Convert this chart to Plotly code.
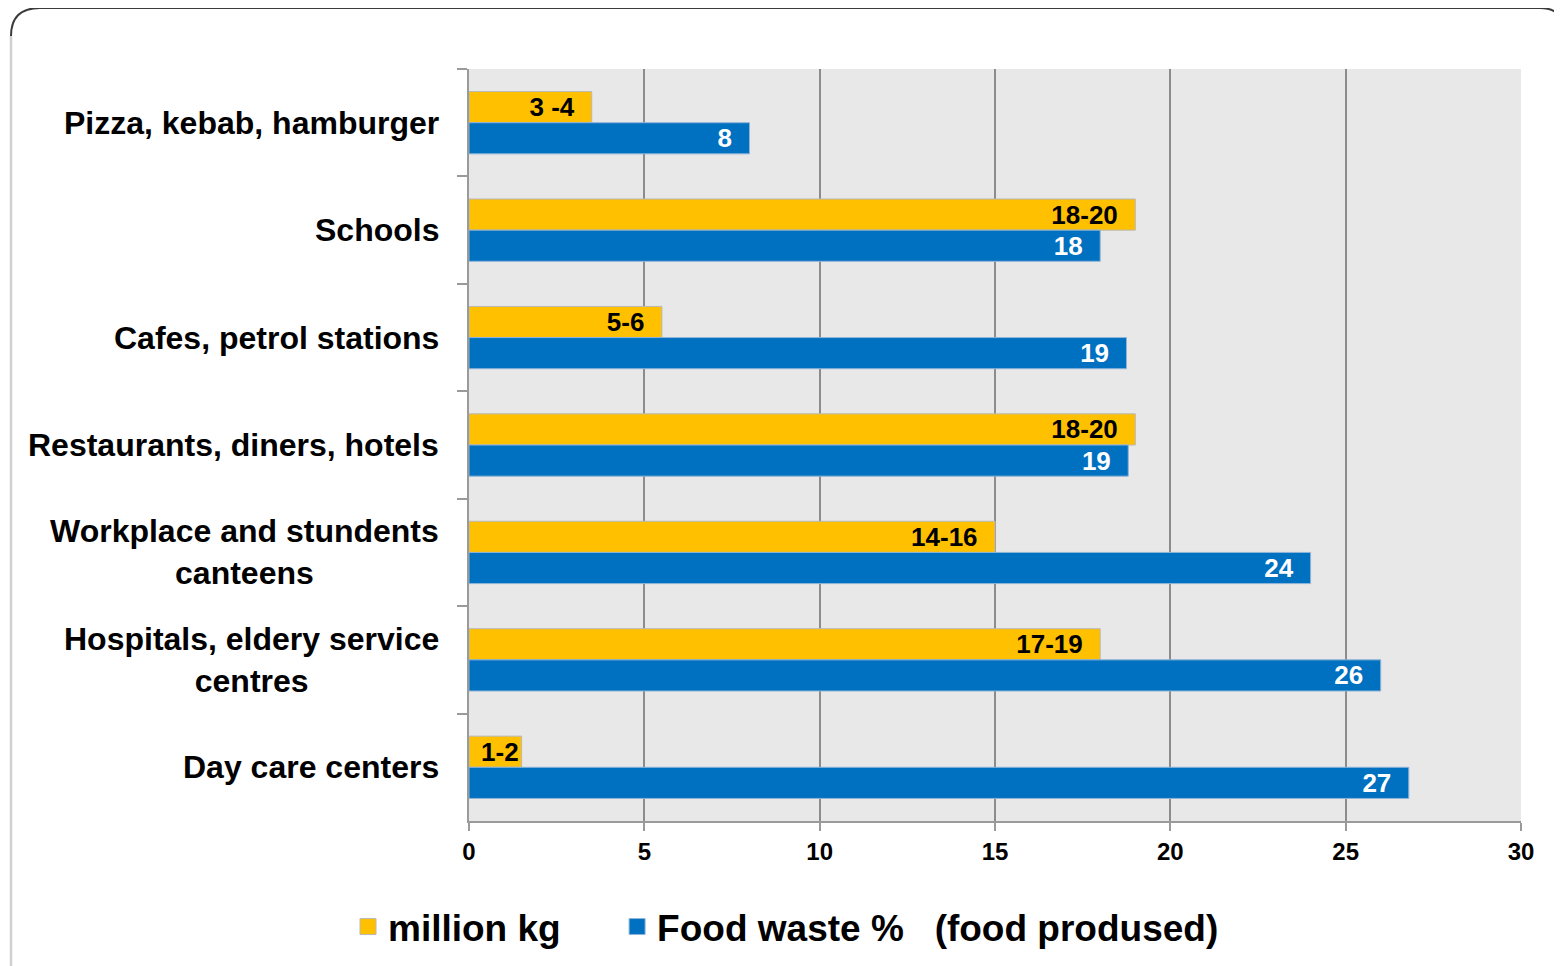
import plotly.graph_objects as go

categories = [
    "Pizza, kebab, hamburger",
    "Schools",
    "Cafes, petrol stations",
    "Restaurants, diners, hotels",
    "Workplace and stundents<br>canteens",
    "Hospitals, eldery service<br>centres",
    "Day care centers",
]
million_kg = [3.5, 19, 5.5, 19, 15, 18, 1.5]
million_kg_labels = ["3 -4", "18-20", "5-6", "18-20", "14-16", "17-19", "1-2"]
food_waste_pct = [8, 18, 18.75, 18.8, 24, 26, 26.8]
food_waste_labels = ["8", "18", "19", "19", "24", "26", "27"]
x_ticks = [0, 5, 10, 15, 20, 25, 30]

ORANGE = "#FFC000"
BLUE = "#0070C0"
FONT = "Liberation Sans, Arial, sans-serif"
NB = "\u00a0"

OFF = 8  # page body margin
W, H = 1562 - OFF, 966 - OFF
L, R, T, B = 469 - OFF, 1562 - 1521, 69 - OFF, 966 - 821
PW, PH = W - L - R, H - T - B


def pxx(p):
    return (p - OFF - L) / PW


def pxy(p):
    return (H - B - (p - OFF)) / PH


def templates(values):
    # extra right padding inside the bar, except where the bar is too short
    return ["<b>%{text}</b>" + (NB * 2 if v > 3 else "") for v in values]


fig = go.Figure()
fig.add_trace(go.Bar(
    y=categories, x=million_kg, orientation="h", name="million kg",
    marker=dict(color=ORANGE, line=dict(color="#B8B8B8", width=1)),
    text=million_kg_labels, texttemplate=templates(million_kg),
    textposition="inside", insidetextanchor="end", constraintext="none", textangle=0,
    insidetextfont=dict(color="black", size=26, family=FONT),
    showlegend=False, hoverinfo="x+y",
))
fig.add_trace(go.Bar(
    y=categories, x=food_waste_pct, orientation="h", name="Food waste %",
    marker=dict(color=BLUE, line=dict(color="#8FB4D8", width=1)),
    text=food_waste_labels, texttemplate=templates(food_waste_pct),
    textposition="inside", insidetextanchor="end", constraintext="none", textangle=0,
    insidetextfont=dict(color="white", size=26, family=FONT),
    showlegend=False, hoverinfo="x+y",
))
# legend entries
fig.add_trace(go.Scatter(
    x=[None], y=[None], mode="markers", name="<b>million kg</b>" + NB * 5,
    marker=dict(symbol="square", size=16, color=ORANGE, line=dict(color="#B8B8B8", width=1)),
))
fig.add_trace(go.Scatter(
    x=[None], y=[None], mode="markers",
    name="<b>Food waste %" + NB * 3 + "(food prodused)</b>",
    marker=dict(symbol="square", size=16, color=BLUE, line=dict(color="#8FB4D8", width=1)),
))

annotations = [
    dict(x=0, xref="paper", y=c, yref="y", text="<b>" + c + "</b>",
         xanchor="right", yanchor="middle", align="center", xshift=-28,
         showarrow=False, font=dict(size=32, color="black", family=FONT))
    for c in categories
]

fig.update_layout(
    width=W, height=H,
    margin=dict(l=L, r=R, t=T, b=B),
    paper_bgcolor="white", plot_bgcolor="#E8E8E8",
    barmode="group", bargap=0.42, bargroupgap=0,
    font=dict(family=FONT, color="black"),
    annotations=annotations,
    shapes=[
        dict(type="line", xref="paper", yref="paper",
             x0=pxx(11), x1=pxx(11), y0=pxy(966), y1=pxy(36),
             line=dict(color="#D0D0D0", width=2.5), layer="above"),
        dict(type="path", xref="paper", yref="paper",
             path=(f"M {pxx(11)},{pxy(36)} Q {pxx(11)},{pxy(8)} {pxx(40)},{pxy(8)} "
                   f"L {pxx(1540)},{pxy(8)} Q {pxx(1556)},{pxy(8)} {pxx(1564)},{pxy(20)}"),
             line=dict(color="#3A3A3A", width=2), layer="above"),
    ],
    legend=dict(
        orientation="h", xref="container", yref="container",
        x=(786 - OFF) / W, xanchor="center", y=(H - (927 - OFF)) / H, yanchor="middle",
        font=dict(size=37, family=FONT, color="black"),
        bgcolor="rgba(0,0,0,0)", itemsizing="trace",
    ),
    xaxis=dict(
        range=[0, 30], tickvals=x_ticks, ticktext=[f"<b>{v}</b>" for v in x_ticks],
        showgrid=True, gridcolor="#8C8C8C", gridwidth=1.5,
        showline=True, linecolor="#9A9A9A", linewidth=2,
        ticks="outside", ticklen=8, tickcolor="#9A9A9A", tickwidth=2,
        tickfont=dict(size=24, family=FONT, color="black"),
        zeroline=False, fixedrange=True,
    ),
    yaxis=dict(
        categoryorder="array", categoryarray=categories, autorange="reversed",
        showticklabels=False, tickson="boundaries",
        ticks="outside", ticklen=10, tickcolor="#9A9A9A", tickwidth=2,
        showline=True, linecolor="#9A9A9A", linewidth=2,
        showgrid=False, zeroline=False, fixedrange=True,
    ),
)

fig.write_html("out.html")
